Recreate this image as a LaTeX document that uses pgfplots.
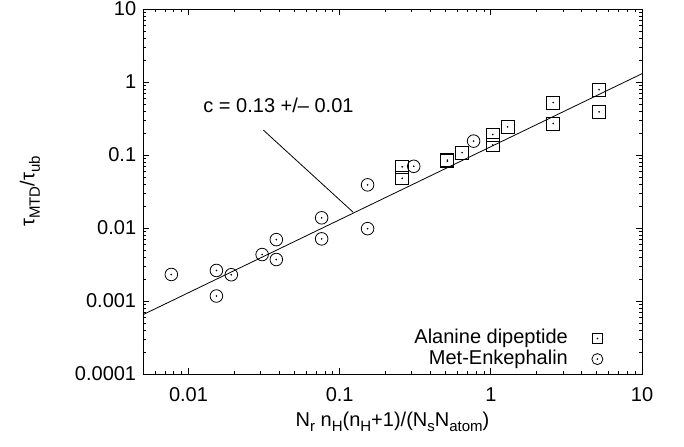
\documentclass[border=0pt]{standalone}
\usepackage{pgfplots}
\pgfplotsset{compat=1.18}
\usepackage{pgfplotstable}
\usepackage{fontspec}
\setmainfont{Liberation Sans}
\newcommand\sub[1]{\raisebox{-0.28em}{\fontsize{15bp}{15bp}\selectfont #1}}
\pgfplotsset{dotlegend/.style={legend image code/.code={\draw[##1] plot coordinates {(0.3cm,0cm)}; \fill[black] (0.3cm,0cm) circle (0.6bp);}}}

\pgfplotstableread{
x y
0.259 0.069
0.259 0.048
0.516 0.082
0.516 0.085
0.646 0.108
1.03 0.191
1.03 0.137
1.29 0.243
2.59 0.523
2.59 0.27
5.2 0.786
5.2 0.39
}\alanine

\pgfplotstableread{
x y
0.0077 0.00231
0.0153 0.00262
0.0153 0.00117
0.0192 0.00229
0.0307 0.00433
0.0381 0.00693
0.0381 0.0037
0.076 0.0138
0.076 0.0071
0.153 0.039
0.153 0.0098
0.309 0.070
0.769 0.155
}\metenk

\pgfplotstableread{
x y
0.005 0.00065
10 1.3
}\fitline

\begin{document}
\fontsize{20bp}{24bp}\selectfont
\begin{tikzpicture}
\path[use as bounding box] (-143bp,-73bp) rectangle (541bp,374bp);
\begin{axis}[
  at={(0,0)}, anchor=south west,
  scale only axis, width=499bp, height=365bp,
  xmode=log, ymode=log,
  xmin=0.005, xmax=10, ymin=0.0001, ymax=10,
  xtick={0.01,0.1,1,10}, xticklabels={0.01,0.1,1,10},
  ytick={0.0001,0.001,0.01,0.1,1,10},
  yticklabels={0.0001,0.001,0.01,0.1,1,10},
  minor xtick={0.006,0.007,0.008,0.009,0.02,0.03,0.04,0.05,0.06,0.07,0.08,0.09,0.2,0.3,0.4,0.5,0.6,0.7,0.8,0.9,2,3,4,5,6,7,8,9},
  minor ytick={0.0002,0.0003,0.0004,0.0005,0.0006,0.0007,0.0008,0.0009,0.002,0.003,0.004,0.005,0.006,0.007,0.008,0.009,0.02,0.03,0.04,0.05,0.06,0.07,0.08,0.09,0.2,0.3,0.4,0.5,0.6,0.7,0.8,0.9,2,3,4,5,6,7,8,9},
  tick align=inside,
  major tick length=6bp, minor tick length=3bp,
  axis line style={line width=0.9bp},
  every tick/.style={black, line width=0.8bp},
  xticklabel style={yshift=-7bp},
  xlabel={N\sub{r} n\sub{H}(n\sub{H}+1)/(N\sub{s}N\sub{atom})},
  ylabel={τ\sub{MTD}/τ\sub{ub}},
  xlabel style={at={(axis description cs:0.5,-0.1425)}, anchor=base},
  ylabel style={at={(axis description cs:-0.2265,0.5)}, anchor=center},
  legend plot pos=right,
  legend cell align=right,
  legend style={draw=none, fill=none, at={(axis description cs:0.928,0.1315)}, anchor=north east,
    column sep=23bp, row sep=0bp,
    nodes={inner sep=1bp, text height=0.72em, text depth=0.21em}},
]
\addplot[black, line width=0.8bp, forget plot] table {\fitline};
\addplot[black, line width=0.8bp, forget plot] coordinates {(0.0313,0.219) (0.123,0.0164)};
\addplot[only marks, mark=square, mark size=6.5bp, mark options={black, line width=0.8bp, fill=none}, forget plot] table {\alanine};
\addplot[only marks, mark=*, mark size=0.6bp, black, forget plot] table {\alanine};
\addplot[only marks, mark=o, mark size=6.3bp, mark options={black, line width=0.8bp, fill=none}, forget plot] table {\metenk};
\addplot[only marks, mark=*, mark size=0.6bp, black, forget plot] table {\metenk};
\addlegendimage{only marks, mark=square, mark size=5bp, mark options={black, line width=0.8bp}, dotlegend}
\addlegendentry{Alanine dipeptide}
\addlegendimage{only marks, mark=o, mark size=5.5bp, mark options={black, line width=0.8bp}, dotlegend}
\addlegendentry{Met-Enkephalin}
\node[anchor=center] at (axis cs:0.0394,0.48) {c = 0.13 +/– 0.01};
\end{axis}
\end{tikzpicture}
\end{document}
